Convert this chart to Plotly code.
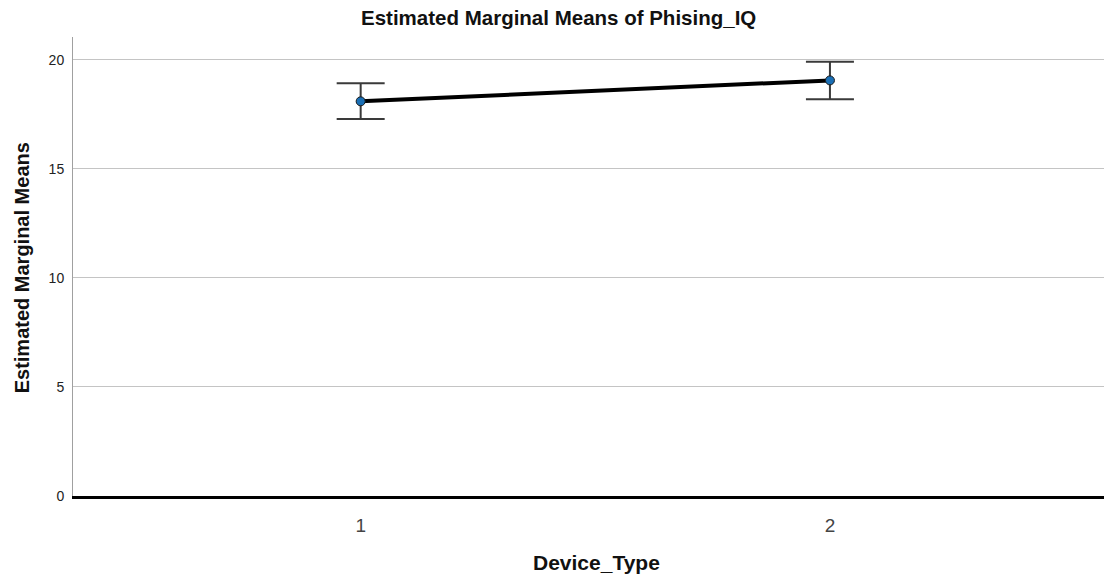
import plotly.graph_objects as go

# Estimated marginal means of Phising_IQ by Device_Type, with 95% CI bounds
device_type = [1, 2]
tick_labels = ["1", "2"]
means = [18.10, 19.06]
ci_lower = [17.29, 18.20]
ci_upper = [18.93, 19.92]
y_ticks = [0, 5, 10, 15, 20]

err_plus = [u - m for u, m in zip(ci_upper, means)]
err_minus = [m - l for m, l in zip(means, ci_lower)]

FONT = "Liberation Sans, Arial, sans-serif"

fig = go.Figure()
fig.add_trace(go.Scatter(
    x=device_type,
    y=means,
    mode="lines+markers",
    line=dict(color="black", width=4),
    marker=dict(size=9, color="#1a6fb5", line=dict(color="#1a1a1a", width=1)),
    error_y=dict(
        type="data",
        symmetric=False,
        array=err_plus,
        arrayminus=err_minus,
        color="#3a3a3a",
        thickness=2,
        width=24,
    ),
    showlegend=False,
    hoverinfo="skip",
))

fig.update_layout(
    width=1104,
    height=575,
    margin=dict(l=73, r=0, t=37, b=79),
    paper_bgcolor="white",
    plot_bgcolor="white",
    font=dict(family=FONT, color="#222"),
    xaxis=dict(
        range=[0.387, 2.584],
        tickvals=device_type,
        ticktext=tick_labels,
        tickfont=dict(size=19, color="#444"),
        showgrid=False,
        zeroline=False,
        showline=True,
        linecolor="black",
        linewidth=3,
        ticks="",
        ticklabelstandoff=10,
    ),
    yaxis=dict(
        range=[0, 21.05],
        tickvals=y_ticks,
        tickfont=dict(size=14, color="#222"),
        showgrid=True,
        gridcolor="#c4c4c4",
        gridwidth=1,
        zeroline=False,
        showline=True,
        linecolor="#a0a0a0",
        linewidth=1,
        ticks="",
        ticklabelstandoff=5,
    ),
    annotations=[
        dict(text="<b>Estimated Marginal Means of Phising_IQ</b>",
             xref="paper", yref="paper", x=0.4705, y=1.042,
             xanchor="center", yanchor="middle", showarrow=False,
             font=dict(size=20.5, color="#111")),
        dict(text="<b>Device_Type</b>",
             xref="paper", yref="paper", x=0.508, y=-0.145,
             xanchor="center", yanchor="middle", showarrow=False,
             font=dict(size=21, color="#111")),
        dict(text="<b>Estimated Marginal Means</b>",
             xref="paper", yref="paper", x=-0.050, y=0.497,
             xanchor="center", yanchor="middle", showarrow=False,
             textangle=-90,
             font=dict(size=20, color="#111")),
    ],
)

fig.write_html("out.html")
